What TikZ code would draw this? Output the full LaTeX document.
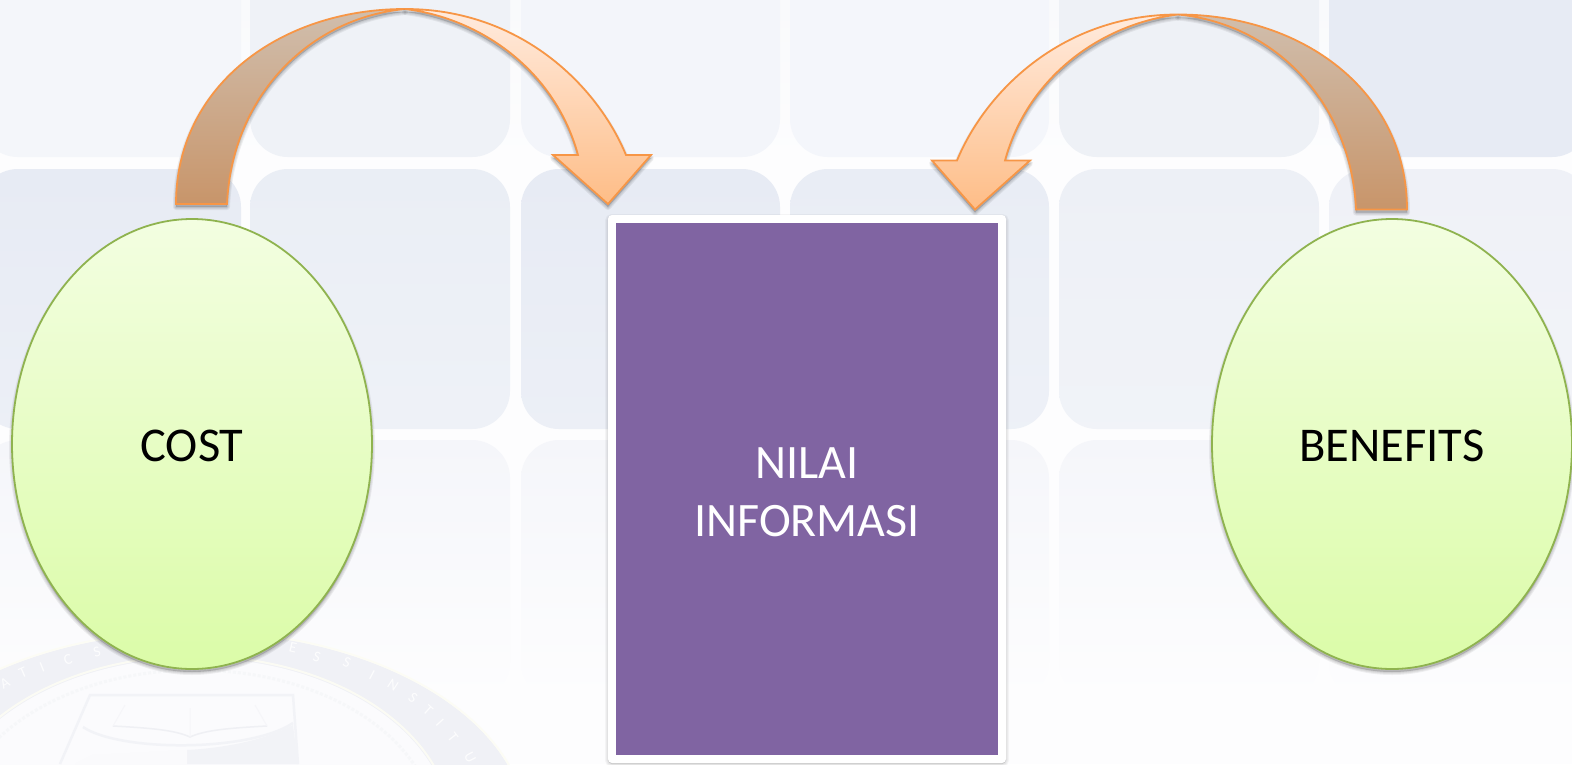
\documentclass[tikz,border=0pt]{standalone}
\usepackage{fontspec}
\setmainfont{Carlito}
\usetikzlibrary{shapes.geometric}
\definecolor{bgbase}{HTML}{FDFDFE}
\definecolor{bgtop}{HTML}{F9FAFC}
\definecolor{ringc}{HTML}{F0F1F6}
\definecolor{sealin}{HTML}{FBFBFD}
\definecolor{sealln}{HTML}{F2F3F7}
\definecolor{sealdots}{HTML}{F6F7F9}
\definecolor{sealrima}{HTML}{FCFCF5}
\definecolor{sealrimb}{HTML}{FBFBF4}
\definecolor{sealbook}{HTML}{EFF0F4}
\definecolor{sealpage}{HTML}{F6F6F9}
\definecolor{arrowln}{HTML}{F79646}
\definecolor{eggln}{HTML}{8FB34F}
\definecolor{purplefill}{HTML}{8064A2}
\definecolor{eggtop}{HTML}{F3FEE1}
\definecolor{eggbot}{HTML}{DBFCA8}
\definecolor{bandtop}{HTML}{D0BEAD}
\definecolor{bandbot}{HTML}{C8956A}
\definecolor{headtop}{HTML}{FFEBDE}
\definecolor{headbot}{HTML}{FEBD87}
\tikzset{
  tile/.style={rounded corners=38pt,draw=none},
  eggnode/.style={ellipse,draw=eggln,line width=1.8pt,inner sep=0pt,
    minimum width=360pt,minimum height=450pt,top color=eggtop,bottom color=eggbot,
    font=\fontsize{48.5}{58}\selectfont,text=black,text height=35pt,text depth=0pt},
  arrowedge/.style={draw=arrowln,line width=1.8pt,line join=miter},
  backband/.style={arrowedge,top color=bandtop,bottom color=bandbot},
  frontband/.style={arrowedge,top color=headtop,bottom color=headbot},
  shadowpass/.style={fill=black,draw=black,line join=round,fill opacity=.06,draw opacity=.06,line width=#1},
  sealletter/.style={font=\fontsize{15}{15}\selectfont,text=white,opacity=.85,inner sep=0pt},
}
\newcommand{\softshadow}[1]{%
  \foreach \w in {6pt,4pt,2pt}{\path[shadowpass=\w,yshift=-3pt] #1;}}
\newcommand{\backpath}{(176,204) .. controls (176,86) and (280,9) .. (405,9)
     .. controls (310,18) and (232,95) .. (227,204) -- cycle}
\newcommand{\frontpath}{(405,9) .. controls (520,9) and (597,85) .. (626,155) -- (651,155) -- (608,204)
     -- (553,155) -- (578,155) .. controls (555,70) and (480,18) .. (405,9) -- cycle}
\newcommand{\curvedarrowshape}{%
  \softshadow{\backpath}%
  \path[backband] \backpath;%
  \softshadow{\frontpath}%
  \path[frontband] \frontpath;%
}
\begin{document}
\begin{tikzpicture}[x=1pt,y=-1pt]
\useasboundingbox (0,0) rectangle (1572,764);
\fill[bgbase] (0,0) rectangle (1572,764);
\begin{scope}
\clip (0,0) rectangle (1572,764);
\shade[top color=bgtop,bottom color=bgbase,draw=none] (0,0) rectangle (1572,165);
% tiles, row 1
\foreach \xa/\xb/\c in {-20/241/F4F6FA,250/510/EFF2F7,521/780/F3F5FA,790/1049/F4F6FB,1059/1319/EEF1F6,1329/1590/E7EBF4}{
  \definecolor{tc}{HTML}{\c}
  \fill[tile,tc] (\xa,-103) rectangle (\xb,157);
}
% row 2
\foreach \xa/\xb/\c in {-20/241/E7EBF4,250/510/EAEEF5,521/780/E7EBF4,790/1049/E9EDF5,1059/1319/EDF0F6,1329/1590/EFF1F7}{
  \definecolor{tc}{HTML}{\c}
  \shade[tile,top color=tc,bottom color=tc!80!white] (\xa,169) rectangle (\xb,429);
}
% row 3
\foreach \xa/\xb in {-20/241,250/510,521/780,790/1049,1059/1319,1329/1590}{
  \definecolor{tc}{HTML}{F5F6FA}
  \shade[tile,top color=tc,middle color=bgbase,bottom color=bgbase] (\xa,440) rectangle (\xb,700);
}
% seal watermark
\fill[ringc] (195,830) ellipse [x radius=331,y radius=198];
\draw[sealrima,line width=2pt] (195,830) ellipse [x radius=332,y radius=199];
\fill[sealin] (195,830) ellipse [x radius=255,y radius=172];
\draw[sealrimb,line width=2pt] (195,830) ellipse [x radius=257,y radius=174];
\draw[sealdots,line width=3pt,dotted] (195,830) ellipse [x radius=240,y radius=160];
\draw[sealln,line width=2.5pt] (60,764) -- (90,695) -- (293,695) -- (298,764);
\draw[sealln,line width=2.5pt] (83,727) .. controls (120,752) and (250,752) .. (293,723);
\fill[sealln] (187,750) .. controls (225,748) and (265,740) .. (293,725) -- (298,764) -- (187,764) -- cycle;
\fill[white!60!sealln] (92,755) -- (187,750) -- (187,764) -- (75,764) -- cycle;
\draw[sealbook,line width=1.5pt] (113,726) .. controls (150,728) and (175,730) .. (190,737) .. controls (205,730) and (230,728) .. (267,726);
\draw[sealpage,line width=1pt] (125,705) -- (113,726) (255,705) -- (267,726) (190,708) -- (190,737);
\foreach \n/\lx/\ly/\r/\t in {a/5/683/28/A,b/23/673/24/T,c/42/667/22/I,d/68/660/18/C,e/97/652/15/S,
  f/293/648/-13/E,g/317/657/-18/S,h/347/662/-23/S,i/372/675/-28/I,j/393/685/-33/N,k/413/698/-38/S,
  l/428/710/-42/T,m/440/723/-48/I,n/453/737/-52/T,o/470/758/-62/U}{
  \node[sealletter,rotate=\r] (seal\n) at (\lx,\ly) {\t};
}
\end{scope}
% arrows
\curvedarrowshape
\begin{scope}[shift={(1583,5.5)},xscale=-1]
\curvedarrowshape
\end{scope}
% ellipses
\softshadow{(192,444) ellipse [x radius=180,y radius=225]}
\softshadow{(1392,444) ellipse [x radius=180,y radius=225]}
\node[eggnode] (cost) at (192,444) {COST};
\node[eggnode] (benefits) at (1392,444) {BENEFITS};
% centre card
\foreach \w in {6pt,4pt,2pt}{
  \path[fill=black,draw=black,fill opacity=.035,draw opacity=.035,line width=\w,rounded corners=4pt] (608,217) rectangle (1006,764);}
\fill[white,rounded corners=4pt] (608,215) rectangle (1006,763);
\node[fill=purplefill,text=white,minimum width=382pt,minimum height=532pt,inner sep=0pt,align=center,
  font=\fontsize{48}{58}\selectfont] (info) at (807,489) {\rule{0pt}{37pt}NILAI\\INFORMASI};
\end{tikzpicture}
\end{document}
